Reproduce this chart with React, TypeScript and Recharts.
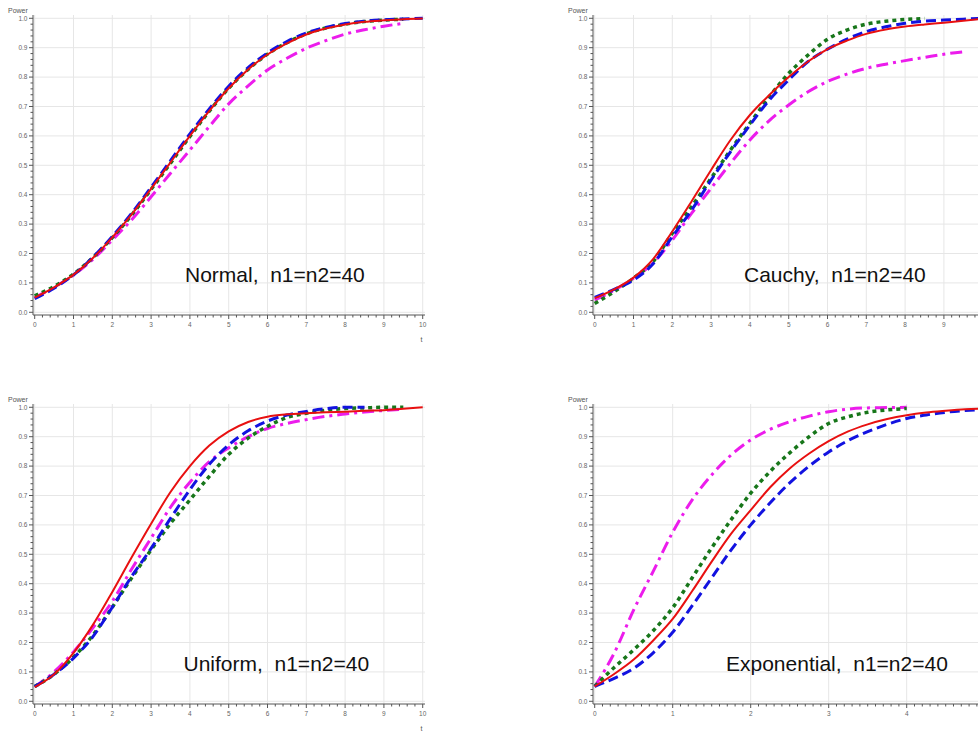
import React from 'react';
import { LineChart, Line, XAxis, YAxis, CartesianGrid } from 'recharts';

// x values per panel
const T_HALF = [0, 0.5, 1, 1.5, 2, 2.5, 3, 3.5, 4, 4.5, 5, 5.5, 6, 6.5, 7, 7.5, 8, 8.5, 9, 9.5, 10];
const T_EXP = [0, 0.25, 0.5, 0.75, 1, 1.25, 1.5, 1.75, 2, 2.25, 2.5, 2.75, 3, 3.25, 3.5, 3.75, 4, 4.25, 4.5, 4.75, 5];

// Normal, n1=n2=40
const NORMAL_RED = [0.05, 0.085, 0.128, 0.185, 0.255, 0.333, 0.42, 0.51, 0.6, 0.685, 0.762, 0.826, 0.877, 0.915, 0.945, 0.965, 0.979, 0.988, 0.993, 0.997, 0.999];
const NORMAL_BLUE = [0.046, 0.082, 0.127, 0.187, 0.258, 0.337, 0.425, 0.516, 0.607, 0.692, 0.769, 0.832, 0.882, 0.921, 0.95, 0.969, 0.982, 0.99, 0.995, 0.998, 1.0];
const NORMAL_GREEN = [0.056, 0.088, 0.13, 0.186, 0.254, 0.331, 0.418, 0.507, 0.598, 0.684, 0.762, 0.826, 0.878, 0.917, 0.947, 0.967, 0.98, 0.989, 0.994, 0.997, null];
const NORMAL_MAGENTA = [0.05, 0.085, 0.127, 0.18, 0.246, 0.315, 0.393, 0.473, 0.552, 0.632, 0.709, 0.77, 0.824, 0.864, 0.898, 0.924, 0.946, 0.961, 0.973, 0.983, null];

// Cauchy, n1=n2=40
const CAUCHY_RED = [0.048, 0.078, 0.118, 0.18, 0.275, 0.378, 0.484, 0.586, 0.671, 0.739, 0.8, 0.853, 0.895, 0.924, 0.947, 0.962, 0.972, 0.979, 0.985, 0.992, 0.998];
const CAUCHY_BLUE = [0.051, 0.078, 0.11, 0.164, 0.257, 0.348, 0.45, 0.546, 0.637, 0.722, 0.79, 0.853, 0.895, 0.929, 0.955, 0.971, 0.983, 0.99, 0.994, 0.997, 1.0];
const CAUCHY_GREEN = [0.03, 0.07, 0.116, 0.172, 0.269, 0.36, 0.456, 0.552, 0.643, 0.733, 0.813, 0.875, 0.929, 0.96, 0.98, 0.99, 0.996, 0.999, null, null, null];
const CAUCHY_MAGENTA = [0.042, 0.075, 0.116, 0.167, 0.246, 0.337, 0.422, 0.507, 0.586, 0.652, 0.705, 0.75, 0.785, 0.81, 0.83, 0.844, 0.856, 0.867, 0.878, 0.886, null];

// Uniform, n1=n2=40
const UNIFORM_RED = [0.048, 0.092, 0.165, 0.26, 0.372, 0.49, 0.604, 0.712, 0.8, 0.87, 0.918, 0.95, 0.968, 0.976, 0.98, 0.983, 0.985, 0.988, 0.99, 0.995, 1.0];
const UNIFORM_BLUE = [0.05, 0.092, 0.147, 0.22, 0.32, 0.425, 0.52, 0.622, 0.72, 0.806, 0.872, 0.92, 0.953, 0.974, 0.986, 0.995, 1.0, 1.0, null, null, null];
const UNIFORM_GREEN = [0.05, 0.092, 0.15, 0.225, 0.32, 0.42, 0.515, 0.605, 0.685, 0.765, 0.84, 0.895, 0.935, 0.965, 0.98, 0.99, 0.996, 0.998, 1.0, 1.0, null];
const UNIFORM_MAGENTA = [0.05, 0.1, 0.168, 0.25, 0.34, 0.45, 0.555, 0.66, 0.745, 0.815, 0.862, 0.9, 0.928, 0.945, 0.958, 0.969, 0.977, 0.984, 0.989, 0.993, null];

// Exponential, n1=n2=40
const EXP_RED = [0.051, 0.093, 0.142, 0.207, 0.28, 0.375, 0.475, 0.57, 0.65, 0.728, 0.792, 0.843, 0.885, 0.918, 0.942, 0.96, 0.973, 0.982, 0.988, 0.993, 0.996];
const EXP_BLUE = [0.051, 0.078, 0.112, 0.165, 0.235, 0.325, 0.42, 0.515, 0.6, 0.675, 0.743, 0.8, 0.848, 0.887, 0.917, 0.942, 0.962, 0.974, 0.983, 0.989, 0.993];
const EXP_GREEN = [0.051, 0.115, 0.175, 0.24, 0.318, 0.42, 0.522, 0.618, 0.708, 0.782, 0.845, 0.9, 0.945, 0.968, 0.983, 0.991, 0.996, null, null, null, null];
const EXP_MAGENTA = [0.05, 0.164, 0.311, 0.442, 0.575, 0.685, 0.77, 0.838, 0.889, 0.925, 0.951, 0.97, 0.985, 0.994, 0.998, 0.999, 1.0, null, null, null, null];

// tick labels
const X_MAJOR_10 = [0, 1, 2, 3, 4, 5, 6, 7, 8, 9, 10];
const X_MAJOR_5 = [0, 1, 2, 3, 4, 5];
const Y_MAJOR = [0, 0.1, 0.2, 0.3, 0.4, 0.5, 0.6, 0.7, 0.8, 0.9, 1.0];

const RED = '#e81010';
const BLUE = '#1212e0';
const GREEN = '#17761a';
const MAGENTA = '#ec1cec';
const FONT = '"Liberation Sans", Arial, sans-serif';
const PAGE_W = 978;

// majors plus n-1 minor ticks between each pair
const withMinors = (majors: number[], n: number) => {
  const out: number[] = [];
  for (let i = 0; i < majors.length - 1; i++) {
    const step = (majors[i + 1] - majors[i]) / n;
    for (let k = 0; k < n; k++) out.push(+(majors[i] + k * step).toFixed(4));
  }
  out.push(majors[majors.length - 1]);
  return out;
};

const isMajor = (v: number, majors: number[]) => majors.some((m) => Math.abs(m - v) < 1e-6);

const makeRows = (ts: number[], red: any[], blue: any[], green: any[], magenta: any[]) =>
  ts.map((t, i) => ({ t, red: red[i], blue: blue[i], green: green[i], magenta: magenta[i] }));

const XTick = (props: any) => {
  const { x, y, payload, majors, pageLeft } = props;
  const major = isMajor(payload.value, majors);
  // labels that would fall past the page edge are not drawn (the reference crops them)
  const visible = pageLeft + x + 6 < PAGE_W;
  return (
    <g>
      <line x1={x} x2={x} y1={y} y2={y + (major ? 4 : 2.5)} stroke="#555" strokeWidth={1} />
      {major && visible && (
        <text x={x} y={y + 11.5} textAnchor="middle" fontSize={6.5} fill="#666" fontFamily={FONT}>
          {payload.value}
        </text>
      )}
    </g>
  );
};

const YTick = (props: any) => {
  const { x, y, payload } = props;
  const major = isMajor(payload.value, Y_MAJOR);
  return (
    <g>
      <line x1={x - (major ? 4 : 2.5)} x2={x} y1={y} y2={y} stroke="#555" strokeWidth={1} />
      {major && (
        <text x={x - 5.5} y={y + 2.3} textAnchor="end" fontSize={6.5} fill="#666" fontFamily={FONT}>
          {payload.value.toFixed(1)}
        </text>
      )}
    </g>
  );
};

interface PanelProps {
  left: number;
  top: number;
  rows: any[];
  xMajors: number[];
  xMinorSplit: number;
  xDomain: [number, number];
}

function Panel({ left, top, rows, xMajors, xMinorSplit, xDomain }: PanelProps) {
  const yDomain: [number, number] = [-0.0092, 1.0112];
  return (
    <div style={{ position: 'absolute', left, top }}>
      <LineChart width={440} height={345} data={rows} margin={{ top: 15, right: 15, left: 0, bottom: 14 }}>
        <CartesianGrid stroke="#e6e6e6" horizontalValues={Y_MAJOR} verticalValues={xMajors} />
        <XAxis
          dataKey="t"
          type="number"
          domain={xDomain}
          allowDataOverflow
          ticks={withMinors(xMajors, xMinorSplit)}
          interval={0}
          height={16}
          tickSize={0}
          tickMargin={0}
          tickLine={false}
          axisLine={{ stroke: '#555' }}
          tick={(p: any) => <XTick {...p} majors={xMajors} pageLeft={left} />}
        />
        <XAxis
          xAxisId="top"
          orientation="top"
          type="number"
          domain={xDomain}
          allowDataOverflow
          height={0}
          tick={false}
          tickLine={false}
          axisLine={{ stroke: '#bdbdbd', strokeWidth: 2 }}
        />
        <YAxis
          type="number"
          domain={yDomain}
          allowDataOverflow
          ticks={withMinors(Y_MAJOR, 5)}
          interval={0}
          width={33}
          tickSize={0}
          tickMargin={0}
          tickLine={false}
          axisLine={{ stroke: '#555' }}
          tick={(p: any) => <YTick {...p} />}
        />
        <YAxis
          yAxisId="right"
          orientation="right"
          type="number"
          domain={yDomain}
          allowDataOverflow
          width={0}
          tick={false}
          tickLine={false}
          axisLine={{ stroke: '#bdbdbd', strokeWidth: 2 }}
        />
        <Line dataKey="magenta" type="monotone" stroke={MAGENTA} strokeWidth={3} strokeDasharray="12 5 3 5" dot={false} isAnimationActive={false} />
        <Line dataKey="green" type="monotone" stroke={GREEN} strokeWidth={3.5} strokeDasharray="4 4" dot={false} isAnimationActive={false} />
        <Line dataKey="blue" type="monotone" stroke={BLUE} strokeWidth={3} strokeDasharray="10 5" dot={false} isAnimationActive={false} />
        <Line dataKey="red" type="monotone" stroke={RED} strokeWidth={2} dot={false} isAnimationActive={false} />
      </LineChart>
    </div>
  );
}

const DOMAIN_10: [number, number] = [-0.0438, 10.059];
const DOMAIN_5: [number, number] = [-0.0218, 5.004];

export default function App() {
  return (
    <div style={{ position: 'absolute', left: 0, top: 0, width: PAGE_W, height: 733, overflow: 'hidden', background: '#fff' }}>
      <Panel left={0} top={0} rows={makeRows(T_HALF, NORMAL_RED, NORMAL_BLUE, NORMAL_GREEN, NORMAL_MAGENTA)} xMajors={X_MAJOR_10} xMinorSplit={5} xDomain={DOMAIN_10} />
      <Panel left={560} top={0} rows={makeRows(T_HALF, CAUCHY_RED, CAUCHY_BLUE, CAUCHY_GREEN, CAUCHY_MAGENTA)} xMajors={X_MAJOR_10} xMinorSplit={5} xDomain={DOMAIN_10} />
      <Panel left={0} top={389} rows={makeRows(T_HALF, UNIFORM_RED, UNIFORM_BLUE, UNIFORM_GREEN, UNIFORM_MAGENTA)} xMajors={X_MAJOR_10} xMinorSplit={5} xDomain={DOMAIN_10} />
      <Panel left={560} top={389} rows={makeRows(T_EXP, EXP_RED, EXP_BLUE, EXP_GREEN, EXP_MAGENTA)} xMajors={X_MAJOR_5} xMinorSplit={10} xDomain={DOMAIN_5} />

      <svg width={PAGE_W} height={733} style={{ position: 'absolute', left: 0, top: 0, pointerEvents: 'none' }}>
        <g fontSize={7} fill="#555" fontFamily={FONT}>
          <text x={8} y={12.5}>Power</text>
          <text x={568} y={12.5}>Power</text>
          <text x={8} y={401.5}>Power</text>
          <text x={568} y={401.5}>Power</text>
          <text x={420.5} y={342}>t</text>
          <text x={420.5} y={731}>t</text>
        </g>
        <g fontSize={21} fill="#111" fontFamily={FONT}>
          <text x={185} y={282.3}>{'Normal,\u00a0 n1=n2=40'}</text>
          <text x={744} y={282.3}>{'Cauchy,\u00a0 n1=n2=40'}</text>
          <text x={183.5} y={671}>{'Uniform,\u00a0 n1=n2=40'}</text>
          <text x={726} y={671}>{'Exponential,\u00a0 n1=n2=40'}</text>
        </g>
      </svg>
    </div>
  );
}
